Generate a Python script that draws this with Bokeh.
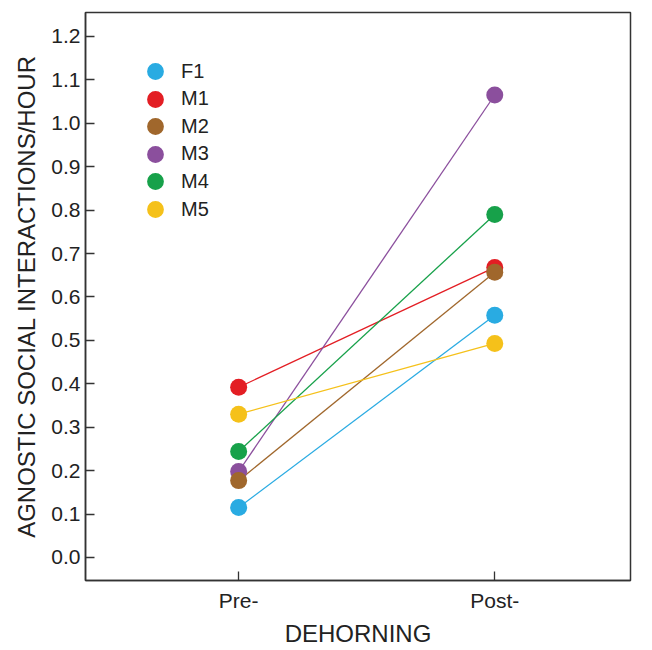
from bokeh.plotting import figure
from bokeh.models import Range1d, FixedTicker, Legend, LegendItem
from bokeh.embed import file_html
from bokeh.resources import INLINE

# data
periods = ["Pre-", "Post-"]
animals = ["F1", "M1", "M2", "M3", "M4", "M5"]
pre_values = [0.115, 0.392, 0.177, 0.198, 0.244, 0.330]
post_values = [0.558, 0.668, 0.657, 1.065, 0.790, 0.493]
colors = ["#29ABE2", "#E31E24", "#A0672C", "#8B4F9D", "#17A14A", "#F5C11A"]
y_ticks = [0.0, 0.1, 0.2, 0.3, 0.4, 0.5, 0.6, 0.7, 0.8, 0.9, 1.0, 1.1, 1.2]
y_title = "AGNOSTIC SOCIAL INTERACTIONS/HOUR"
x_title = "DEHORNING"
draw_order = [0, 1, 3, 2, 4, 5]

FONT = "Liberation Sans"
AX = "#333333"
TXT = "#222222"

FRAME_BOTTOM_OFFSET = 70
p = figure(width=652, height=650, output_backend="svg", toolbar_location=None,
           x_range=Range1d(-0.598, 1.53), y_range=Range1d(-0.053, 1.255),
           min_border_left=85, min_border_right=22, min_border_top=12,
           min_border_bottom=FRAME_BOTTOM_OFFSET)
p.xgrid.visible = False
p.ygrid.visible = False
p.outline_line_color = AX
p.outline_line_width = 1.5
p.background_fill_color = "white"
p.border_fill_color = "white"

xs = list(range(len(periods)))
renderers = {}
for i in draw_order:
    p.line(xs, [pre_values[i], post_values[i]], line_color=colors[i], line_width=1.3)
for i in draw_order:
    r = p.scatter(xs, [pre_values[i], post_values[i]], size=17, fill_color=colors[i],
                  line_color=None)
    renderers[i] = r

p.xaxis.ticker = FixedTicker(ticks=xs)
p.xaxis.major_label_overrides = {i: lab for i, lab in enumerate(periods)}
p.yaxis.ticker = FixedTicker(ticks=y_ticks)
p.yaxis.major_label_overrides = {t: f"{t:.1f}" for t in y_ticks}

for ax in (p.xaxis[0], p.yaxis[0]):
    ax.axis_line_color = AX
    ax.axis_line_width = 1.5
    ax.major_tick_line_color = AX
    ax.major_tick_line_width = 1.3
    ax.major_tick_in = 9
    ax.major_tick_out = 0
    ax.minor_tick_line_color = None
    ax.major_label_text_font = FONT
    ax.major_label_text_font_size = "21px"
    ax.major_label_text_color = TXT
    ax.axis_label_text_font = FONT
    ax.axis_label_text_font_size = "24px"
    ax.axis_label_text_font_style = "normal"
    ax.axis_label_text_color = TXT

p.xaxis.axis_label = x_title
p.yaxis.axis_label = y_title
p.xaxis.major_label_standoff = 8
p.yaxis.major_label_standoff = 5
p.xaxis.axis_label_standoff = 5
p.yaxis.axis_label_standoff = 8

FRAME_H = 650 - 12 - FRAME_BOTTOM_OFFSET

# one small legend per entry so the rows can sit closer than the marker box
GLYPH = 42
PITCH = 27.6
FIRST_CENTER_FROM_TOP = 59   # first legend row centre below frame top
for k, i in enumerate(range(len(animals))):
    center_from_top = FIRST_CENTER_FROM_TOP + PITCH * k
    vy = FRAME_H - (center_from_top + GLYPH / 2)
    lg = Legend(items=[LegendItem(label=animals[i], renderers=[renderers[i]])],
                location=(49, vy), padding=0, margin=0, spacing=0,
                glyph_width=GLYPH, glyph_height=GLYPH, label_height=20,
                label_standoff=5, border_line_color=None, background_fill_alpha=0,
                label_text_font=FONT, label_text_font_size="20px",
                label_text_color=TXT)
    p.add_layout(lg, "center")

open("out.html", "w").write(file_html(p, INLINE))
